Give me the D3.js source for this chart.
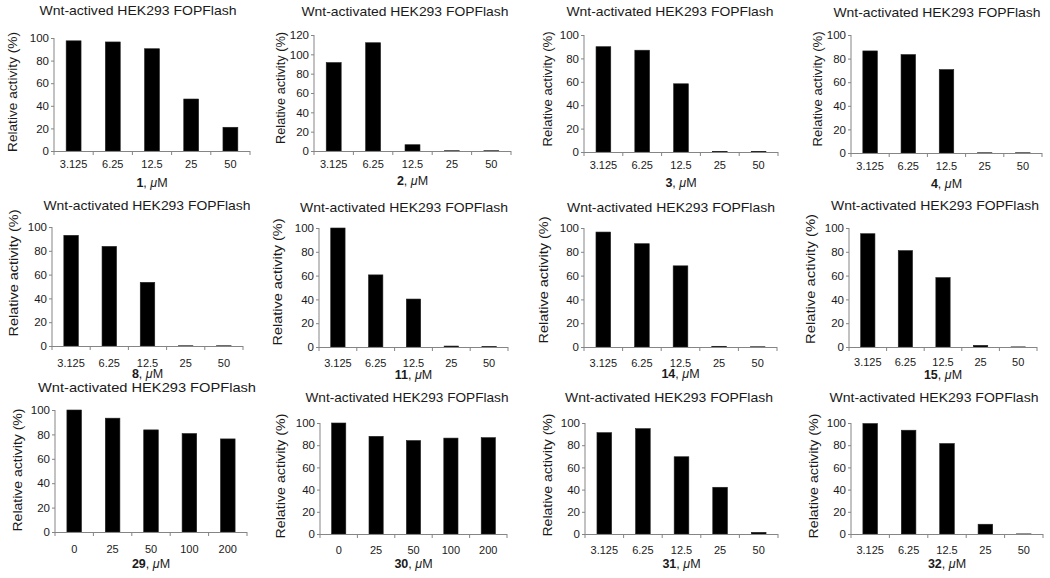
<!DOCTYPE html>
<html><head><meta charset="utf-8">
<script src="https://cdn.jsdelivr.net/npm/d3@7"></script>
<style>
html,body{margin:0;padding:0;background:#fff;}
text{font-family:"Liberation Sans",Arial,sans-serif;fill:#1a1a1a;}
</style></head>
<body><svg id="c" width="1050" height="578"></svg>
<script>
// ---- data ----
const concA = ["3.125","6.25","12.5","25","50"];
const concB = ["0","25","50","100","200"];
const compounds = ["1","2","3","4","8","11","14","15","29","30","31","32"];
const titles = ["Wnt-actived HEK293 FOPFlash","Wnt-activated HEK293 FOPFlash","Wnt-activated HEK293 FOPFlash","Wnt-activated HEK293 FOPFlash",
  "Wnt-activated HEK293 FOPFlash","Wnt-activated HEK293 FOPFlash","Wnt-activated HEK293 FOPFlash","Wnt-activated HEK293 FOPFlash",
  "Wnt-activated HEK293 FOPFlash","Wnt-activated HEK293 FOPFlash","Wnt-activated HEK293 FOPFlash","Wnt-activated HEK293 FOPFlash"];
const values1  = [97.5, 96.5, 90.5, 46, 21];
const values2  = [91.5, 112, 6.5, 0.3, 0.3];
const values3  = [90, 87, 58.3, 0.5, 0.5];
const values4  = [86.5, 83.4, 70.7, 0.2, 0.2];
const values8  = [93, 83.7, 53.5, 0.2, 0.2];
const values11 = [100, 60.6, 40.3, 0.8, 0.4];
const values14 = [96.6, 86.8, 68.2, 0.6, 0.2];
const values15 = [95.2, 81, 58.3, 1.4, 0.1];
const values29 = [100, 93.3, 83.7, 80.7, 76.3];
const values30 = [100, 88, 84.2, 86.4, 86.8];
const values31 = [91.3, 94.9, 69.6, 42.1, 1.5];
const values32 = [99.5, 93.5, 81.5, 8.8, 0.1];
const seriesValues = [values1,values2,values3,values4,values8,values11,values14,values15,values29,values30,values31,values32];
const seriesCats = [concA,concA,concA,concA,concA,concA,concA,concA,concB,concB,concA,concA];
const yMaxes = [100,120,100,100,100,100,100,100,100,100,100,100];
const yTickStep = 20;

// ---- layout (pixel geometry per panel) ----
const layout = [
 {x0:54,x1:250,yt:38,y0:151,tx:138,ty:15,tw:197,lx:17,lcy:92,ll:120,tb:168,xb:187},
 {x0:314,x1:511,yt:35,y0:151,tx:405,ty:16,tw:207,lx:285,lcy:88,ll:112,tb:168,xb:185},
 {x0:584,x1:778,yt:35,y0:152,tx:670,ty:16,tw:207,lx:552,lcy:89,ll:115,tb:169,xb:187},
 {x0:851,x1:1042,yt:35,y0:153,tx:937,ty:17,tw:207,lx:822,lcy:89,ll:115,tb:170,xb:188},
 {x0:52,x1:243,yt:227,y0:346,tx:147,ty:210,tw:207,lx:18,lcy:273,ll:127,tb:367,xb:378},
 {x0:319,x1:508,yt:228,y0:347,tx:404,ty:212,tw:208,lx:282,lcy:282,ll:127,tb:367,xb:379},
 {x0:584,x1:777,yt:228,y0:347,tx:671,ty:212,tw:208,lx:548,lcy:280,ll:127,tb:367,xb:378},
 {x0:849,x1:1037,yt:228,y0:347,tx:935,ty:210,tw:208,lx:815,lcy:279,ll:130,tb:366,xb:379},
 {x0:55,x1:247,yt:410,y0:532,tx:147,ty:392,tw:218,lx:22,lcy:470,ll:123,tb:553,xb:568},
 {x0:320,x1:507,yt:423,y0:534,tx:407,ty:402,tw:203,lx:285,lcy:476,ll:125,tb:554,xb:568},
 {x0:585,x1:778,yt:423,y0:534,tx:669,ty:402,tw:208,lx:552,lcy:475,ll:123,tb:554,xb:568},
 {x0:851,x1:1043,yt:423,y0:534,tx:934,ty:402,tw:209,lx:818,lcy:476,ll:125,tb:554,xb:568}
];

const axisColor = "#858585";
const svg = d3.select("#c");

compounds.forEach((cmp, i) => {
  const L = layout[i];
  const cats = seriesCats[i];
  const vals = seriesValues[i];
  const g = svg.append("g");

  const x = d3.scaleBand().domain(cats).range([L.x0, L.x1]).paddingInner(0.62).paddingOuter(0.31);
  const y = d3.scaleLinear().domain([0, yMaxes[i]]).range([L.y0, L.yt]);

  // bars
  g.selectAll("rect.bar").data(vals).join("rect")
    .attr("class","bar")
    .attr("x",(d,j)=>x(cats[j]))
    .attr("width",x.bandwidth())
    .attr("y",d=>y(d))
    .attr("height",d=>Math.max(0.6, y(0)-y(d)))
    .attr("fill","#000")
    .attr("stroke","#222").attr("stroke-width",0.6);

  // y axis
  const yAxis = d3.axisLeft(y).tickValues(d3.range(0, yMaxes[i]+1, yTickStep)).tickSize(3).tickPadding(2);
  const ya = g.append("g").attr("transform",`translate(${L.x0},0)`).call(yAxis);
  ya.select(".domain").attr("stroke",axisColor).attr("d",`M0,${L.yt}V${L.y0}`);
  ya.selectAll(".tick line").attr("stroke",axisColor);
  ya.selectAll(".tick text").attr("font-size",11.5).attr("fill","#1a1a1a")
    .style("font-family",'"Liberation Sans",Arial,sans-serif');

  // x axis: line + boundary ticks
  const step = x.step();
  g.append("line").attr("x1",L.x0).attr("x2",L.x1).attr("y1",L.y0+0.5).attr("y2",L.y0+0.5)
    .attr("stroke",axisColor);
  g.selectAll("line.xt").data(d3.range(cats.length+1)).join("line")
    .attr("class","xt")
    .attr("x1",k=>L.x0 + k*(L.x1-L.x0)/cats.length).attr("x2",k=>L.x0 + k*(L.x1-L.x0)/cats.length)
    .attr("y1",L.y0).attr("y2",L.y0+4).attr("stroke",axisColor);
  g.selectAll("text.xl").data(cats).join("text")
    .attr("class","xl")
    .attr("x",d=>x(d)+x.bandwidth()/2).attr("y",L.tb)
    .attr("text-anchor","middle").attr("font-size",11).text(d=>d);

  // x label
  const xl = g.append("text").attr("x",(L.x0+L.x1)/2).attr("y",L.xb)
    .attr("text-anchor","middle").attr("font-size",12.5);
  xl.append("tspan").attr("font-weight","bold").text(cmp);
  xl.append("tspan").text(", ");
  xl.append("tspan").attr("font-style","italic").text("\u03bc");
  xl.append("tspan").text("M");

  // title
  g.append("text").attr("x",L.tx).attr("y",L.ty).attr("text-anchor","middle")
    .attr("font-size",13).attr("textLength",L.tw).attr("lengthAdjust","spacingAndGlyphs")
    .text(titles[i]);

  // y label
  g.append("text").attr("transform",`translate(${L.lx},${L.lcy}) rotate(-90)`)
    .attr("text-anchor","middle").attr("font-size",13.5)
    .attr("textLength",L.ll).attr("lengthAdjust","spacingAndGlyphs")
    .text("Relative activity (%)");
});
</script></body></html>
